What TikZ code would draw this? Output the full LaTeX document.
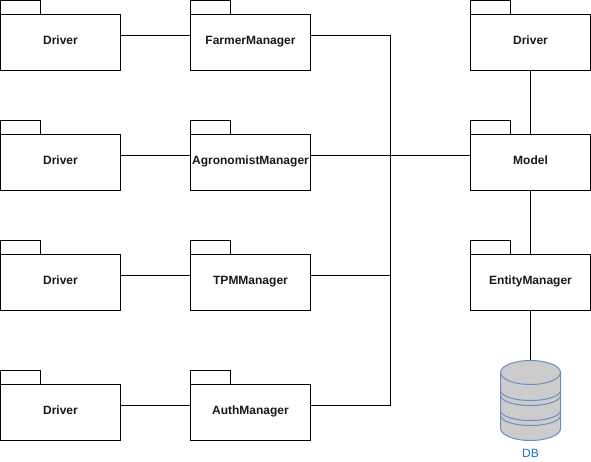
\documentclass[tikz,border=0pt]{standalone}
\usepackage{fontspec}
\setmainfont{Liberation Sans}
\definecolor{dbblue}{HTML}{6C8EBF}
\definecolor{dbfill}{HTML}{CCCCCC}
\definecolor{dblabel}{HTML}{1F6FC4}
\tikzset{
  x=1pt,y=-1pt,
  link/.style={draw=black,line width=1pt},
  pkgarea/.style={rectangle,minimum width=120pt,minimum height=70pt,inner sep=0pt,outer sep=0pt,anchor=north west},
  pkgbody/.style={rectangle,draw=black,fill=white,line width=1pt,minimum width=120pt,minimum height=56pt,inner sep=0pt,outer sep=0pt,anchor=south,font=\fontsize{12}{14}\selectfont\bfseries,text=black!90},
  pkgtab/.style={rectangle,draw=black,fill=white,line width=1pt,minimum width=40pt,minimum height=14pt,inner sep=0pt,outer sep=0pt,anchor=south west},
  dbpart/.style={draw=dbblue,fill=dbfill,line width=1pt},
  dbline/.style={draw=dbblue,line width=1pt},
}
\newcommand{\pkgnode}[4]{%
  \node[pkgarea] (#1) at (#2,#3) {};
  \node[pkgbody] (#1b) at (#1.south) {\raisebox{4.5pt}{#4}};
  \node[pkgtab] (#1t) at (#1b.north west) {};
}
\begin{document}
\begin{tikzpicture}
\useasboundingbox (0,0) rectangle (591,462);
\begin{scope}[shift={(0.5,0.5)}]
\pkgnode{da}{0}{0}{Driver}
\pkgnode{db}{0}{120}{Driver}
\pkgnode{dc}{0}{240}{Driver}
\pkgnode{dd}{0}{370}{Driver}
\pkgnode{fm}{190}{0}{FarmerManager}
\pkgnode{am}{190}{120}{AgronomistManager}
\pkgnode{tm}{190}{240}{TPMManager}
\pkgnode{um}{190}{370}{AuthManager}
\pkgnode{dr}{470}{0}{Driver}
\pkgnode{mo}{470}{120}{Model}
\pkgnode{em}{470}{240}{EntityManager}
\coordinate (cdb) at (530,360);
\coordinate (bus) at (390,155);
\draw[link] (da.east) -- (fm.west);
\draw[link] (db.east) -- (am.west);
\draw[link] (dc.east) -- (tm.west);
\draw[link] (dd.east) -- (um.west);
\draw[link] (fm.east) -| (bus);
\draw[link] (tm.east) -| (bus);
\draw[link] (um.east) -| (bus);
\draw[link] (am.east) -- (mo.west);
\draw[link] (drb.south) -- (mob.north);
\draw[link] (mob.south) -- (emb.north);
\draw[link] (emb.south) -- (cdb);
% database
\draw[dbpart] (500,372) arc[start angle=180,end angle=0,x radius=30,y radius=-12]
  -- (560,428) arc[start angle=360,end angle=180,x radius=30,y radius=-12] -- cycle;
\draw[dbline] (500,372) arc[start angle=180,end angle=360,x radius=30,y radius=-12];
\draw[dbline] (500,390) arc[start angle=180,end angle=360,x radius=30,y radius=-10];
\draw[dbline] (500,395) arc[start angle=180,end angle=360,x radius=30,y radius=-10];
\draw[dbline] (500,410) arc[start angle=180,end angle=360,x radius=30,y radius=-10];
\draw[dbline] (500,415) arc[start angle=180,end angle=360,x radius=30,y radius=-10];
\node[text=dblabel,font=\fontsize{12}{14}\selectfont] (dbl) at (530,453) {DB};
\end{scope}
\end{tikzpicture}
\end{document}
